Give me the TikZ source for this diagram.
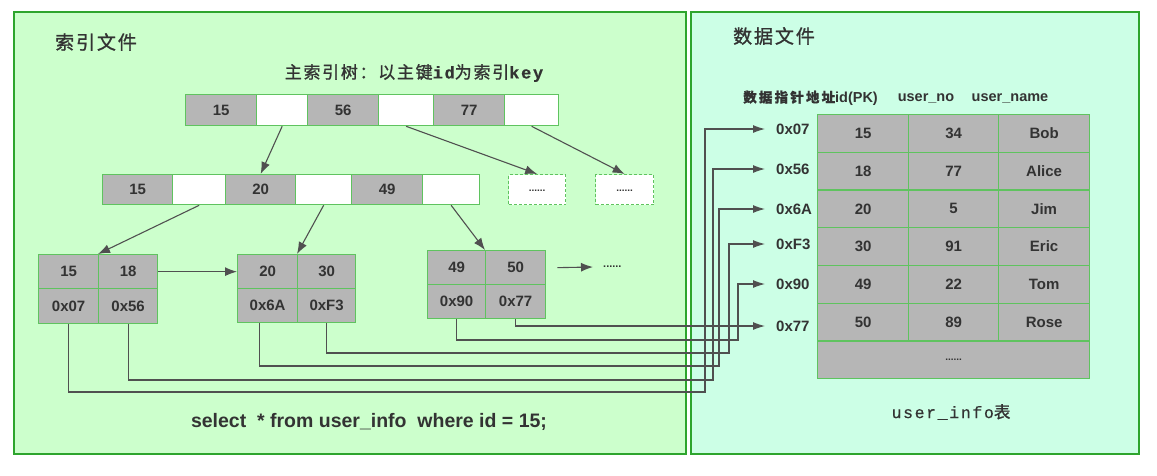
\documentclass[tikz,border=0pt]{standalone}
\usepackage{fontspec}
\setmainfont{Liberation Sans}
\setmonofont{Liberation Mono}
\newfontfamily\cjk[FakeBold=1.2]{Noto Sans CJK SC}
\newfontfamily\cjkls[LetterSpace=10,FakeBold=1.2]{Noto Sans CJK SC}
\newfontfamily\cjkhd[LetterSpace=16,FakeBold=0.8]{Noto Sans CJK SC}
\newfontfamily\monols[LetterSpace=10,FakeBold=0.6]{Liberation Mono}
\usetikzlibrary{arrows.meta}
\definecolor{leftbg}{RGB}{204,255,204}
\definecolor{rightbg}{RGB}{204,255,230}
\definecolor{panelgreen}{RGB}{45,165,45}
\definecolor{cellgreen}{RGB}{95,195,95}
\definecolor{cellgray}{RGB}{182,182,182}
\definecolor{txt}{RGB}{51,51,51}
\definecolor{linegray}{RGB}{80,80,80}
\tikzset{
  panel/.style={draw=panelgreen, line width=2pt, anchor=north west, inner sep=0pt},
  basecell/.style={draw=cellgreen, line width=1.3pt, anchor=north west, inner sep=0pt, text=txt,
    font=\fontsize{15}{18}\selectfont\bfseries},
  gcell/.style={basecell, fill=cellgray},
  wcell/.style={basecell, fill=white},
  dashbox/.style={basecell, fill=white, dash pattern=on 3pt off 2pt, font=\fontsize{10}{12}\selectfont\bfseries},
  tarrow/.style={draw=linegray, line width=1.1pt, -{Latex[length=12pt,width=9pt]}},
  ptr/.style={draw=linegray, line width=1.1pt, -{Latex[length=12pt,width=8pt]}},
  plabel/.style={anchor=west, inner xsep=11pt, inner ysep=0pt, text=txt, font=\fontsize{15}{18}\selectfont\bfseries},
  hlabel/.style={inner sep=0pt, text=txt, font=\fontsize{14.5}{17}\selectfont\bfseries},
}
\begin{document}
\begin{tikzpicture}[x=1pt,y=-1pt]
\useasboundingbox (0,0) rectangle (1157,475);
\fill[white] (0,0) rectangle (1157,475);
% panels
\node[panel, fill=leftbg, minimum width=672pt, minimum height=442pt] (left) at (13,11) {};
\node[panel, fill=rightbg, minimum width=448pt, minimum height=442pt] (right) at (690,11) {};
\node[text=txt, inner sep=0pt, font=\fontsize{19}{21}\selectfont\cjkls] (t1) at (96,42) {索引文件};
\node[text=txt, inner sep=0pt, font=\fontsize{19}{21}\selectfont\cjkls] (t2) at (774,36) {数据文件};
\node[text=txt, inner sep=0pt, font=\fontsize{17}{19}\selectfont\cjkls] (t3) at (414,73) {主索引树：以主键{\monols\bfseries id}为索引{\monols\bfseries key}};
% root
\node[gcell, minimum width=71pt, minimum height=31pt] (r1) at (185,94) {15};
\node[wcell, minimum width=51pt, minimum height=31pt] (r2) at (256,94) {};
\node[gcell, minimum width=71pt, minimum height=31pt] (r3) at (307,94) {56};
\node[wcell, minimum width=55pt, minimum height=31pt] (r4) at (378,94) {};
\node[gcell, minimum width=71pt, minimum height=31pt] (r5) at (433,94) {77};
\node[wcell, minimum width=54pt, minimum height=31pt] (r6) at (504,94) {};
% level 2
\node[gcell, minimum width=70pt, minimum height=30pt] (m1) at (102,174) {15};
\node[wcell, minimum width=53pt, minimum height=30pt] (m2) at (172,174) {};
\node[gcell, minimum width=70pt, minimum height=30pt] (m3) at (225,174) {20};
\node[wcell, minimum width=56pt, minimum height=30pt] (m4) at (295,174) {};
\node[gcell, minimum width=71pt, minimum height=30pt] (m5) at (351,174) {49};
\node[wcell, minimum width=57pt, minimum height=30pt] (m6) at (422,174) {};
\node[dashbox, minimum width=57pt, minimum height=30pt] (d1) at (508,174) {\raisebox{-4pt}{......}};
\node[dashbox, minimum width=58pt, minimum height=30pt] (d2) at (595,174) {\raisebox{-4pt}{......}};
% leaves
\node[gcell, minimum width=60pt, minimum height=34pt] (L1a) at (38,254) {15};
\node[gcell, minimum width=59pt, minimum height=34pt] (L1b) at (98,254) {18};
\node[gcell, minimum width=60pt, minimum height=35pt] (L1c) at (38,288) {0x07};
\node[gcell, minimum width=59pt, minimum height=35pt] (L1d) at (98,288) {0x56};
\node[gcell, minimum width=60pt, minimum height=34pt] (L2a) at (237,254) {20};
\node[gcell, minimum width=58pt, minimum height=34pt] (L2b) at (297,254) {30};
\node[gcell, minimum width=60pt, minimum height=34pt] (L2c) at (237,288) {0x6A};
\node[gcell, minimum width=58pt, minimum height=34pt] (L2d) at (297,288) {0xF3};
\node[gcell, minimum width=58pt, minimum height=34pt] (L3a) at (427,250) {49};
\node[gcell, minimum width=60pt, minimum height=34pt] (L3b) at (485,250) {50};
\node[gcell, minimum width=58pt, minimum height=34pt] (L3c) at (427,284) {0x90};
\node[gcell, minimum width=60pt, minimum height=34pt] (L3d) at (485,284) {0x77};
\node[anchor=west, inner xsep=10pt, inner ysep=0pt, text=txt, font=\fontsize{11}{12}\selectfont\bfseries] (more) at (593,267) {......};
% tree arrows
\draw[tarrow] (r2.south) -- (m3.north);
\draw[tarrow] (r4.south) -- (d1.north);
\draw[tarrow] (r6.south) -- (d2.north);
\draw[tarrow] (m2.south) -- (L1b.north west);
\draw[tarrow] (m4.south) -- (L2b.north west);
\draw[tarrow] (m6.south) -- (L3b.north west);
\draw[tarrow] (L1b.east) -- (L2a.west);
\draw[tarrow] ([xshift=11pt]L3b.east) -- (more.west);
% table
\node[hlabel, anchor=east] (h1) at (878,98) {{\fontsize{13.5}{16}\selectfont\cjkhd 数据指针地址}id(PK)};
\node[hlabel] (h2) at (926,98) {user\_no};
\node[hlabel] (h3) at (1010,98) {user\_name};
\foreach \i/\a/\b/\c in {1/15/34/Bob,2/18/77/Alice,3/20/5/Jim,4/30/91/Eric,5/49/22/Tom,6/50/89/Rose}{
  \node[gcell, minimum width=91pt, minimum height=37.7pt] (ta\i) at (817,{114+37.7*(\i-1)}) {\a};
  \node[gcell, minimum width=90pt, minimum height=37.7pt] (tb\i) at (908,{114+37.7*(\i-1)}) {\b};
  \node[gcell, minimum width=91pt, minimum height=37.7pt] (tc\i) at (998,{114+37.7*(\i-1)}) {\c};
}
\node[gcell, minimum width=272pt, minimum height=37.8pt, font=\fontsize{10}{12}\selectfont\bfseries] (tend) at (817,340.2) {......};
% pointer labels
\node[plabel] (p07) at (765,129) {0x07};
\node[plabel] (p56) at (765,169) {0x56};
\node[plabel] (p6A) at (765,209) {0x6A};
\node[plabel] (pF3) at (765,244) {0xF3};
\node[plabel] (p90) at (765,284) {0x90};
\node[plabel] (p77) at (765,326) {0x77};
% pointer lines
\draw[ptr] (L1c.south) |- (705,392) |- (p07.west);
\draw[ptr] (L1d.south) |- (713,380) |- (p56.west);
\draw[ptr] ([xshift=-8pt]L2c.south) |- (719,366) |- (p6A.west);
\draw[ptr] (L2d.south) |- (729,353) |- (pF3.west);
\draw[ptr] (L3c.south) |- (738,340) |- (p90.west);
\draw[ptr] (L3d.south) |- (p77.west);
% captions
\node[text=txt, inner sep=0pt, font=\fontsize{19.5}{22}\selectfont\bfseries] (sql) at (369,422) {select~~* from user\_info~~where id = 15;};
\node[text=txt, inner sep=0pt, font=\fontsize{16.5}{19}\selectfont\monols] (cap) at (951,412) {user\_info{\cjk 表}};
\end{tikzpicture}
\end{document}
